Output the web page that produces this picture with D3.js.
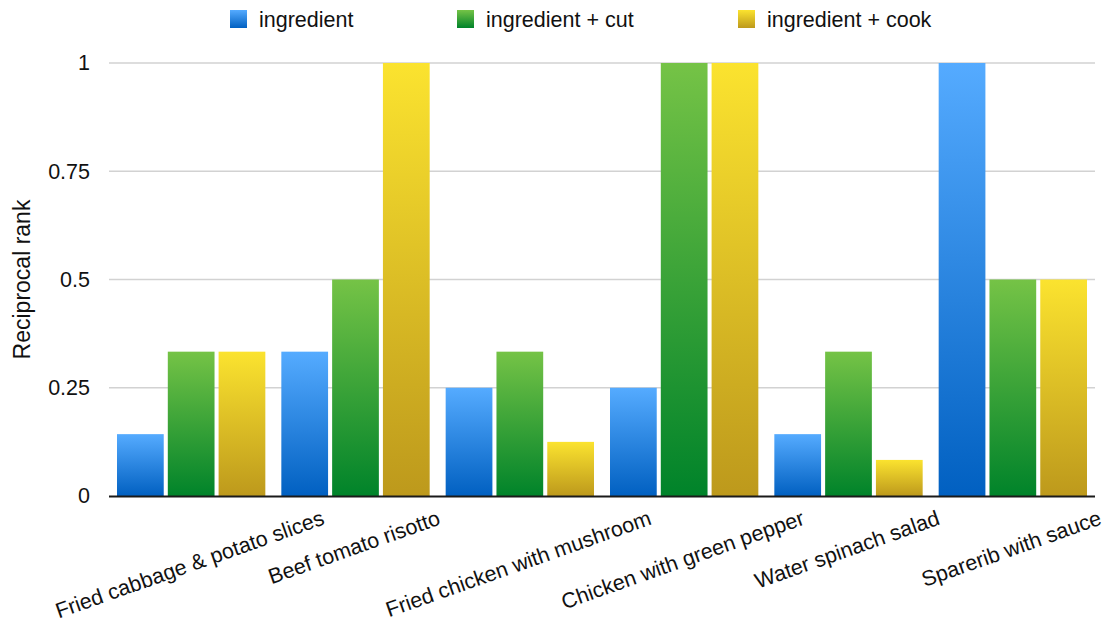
<!DOCTYPE html>
<html>
<head>
<meta charset="utf-8">
<script src="https://cdn.jsdelivr.net/npm/d3@7"></script>
<style>
  html, body { margin: 0; padding: 0; background: #fff; }
  svg { display: block; font-family: "Liberation Sans", Arial, Helvetica, sans-serif; }
</style>
</head>
<body>
<svg id="chart" width="1107" height="625"></svg>
<script>
// Reciprocal rank per dish for three query types
const categories = [
  "Fried cabbage & potato slices",
  "Beef tomato risotto",
  "Fried chicken with mushroom",
  "Chicken with green pepper",
  "Water spinach salad",
  "Sparerib with sauce"
];
const seriesNames = ["ingredient", "ingredient + cut", "ingredient + cook"];
const ingredient = [1/7, 1/3, 1/4, 1/4, 1/7, 1];
const ingredientCut = [1/3, 1/2, 1/3, 1, 1/3, 1/2];
const ingredientCook = [1/3, 1, 1/8, 1, 1/12, 1/2];
const yTicks = [0, 0.25, 0.5, 0.75, 1];
const yTickLabels = ["0", "0.25", "0.5", "0.75", "1"];

const seriesValues = [ingredient, ingredientCut, ingredientCook];
const gradients = [
  { id: "gBlue", top: "#55abff", bottom: "#0160c1" },
  { id: "gGreen", top: "#75c346", bottom: "#00832a" },
  { id: "gYellow", top: "#fbe32f", bottom: "#bd991c" }
];

const svg = d3.select("#chart");
const plotLeft = 109, plotRight = 1095, plotTop = 63, plotBottom = 496;

const defs = svg.append("defs");
gradients.forEach(g => {
  const lgr = defs.append("linearGradient")
    .attr("id", g.id).attr("x1", 0).attr("y1", 0).attr("x2", 0).attr("y2", 1);
  lgr.append("stop").attr("offset", "0%").attr("stop-color", g.top);
  lgr.append("stop").attr("offset", "100%").attr("stop-color", g.bottom);
});

const x0 = d3.scaleBand().domain(categories).range([plotLeft, plotRight]).padding(0);
const x1 = d3.scaleBand().domain(seriesNames)
  .range([8, x0.bandwidth() - 8]).paddingInner(0.08).paddingOuter(0);
const y = d3.scaleLinear().domain([0, 1]).range([plotBottom, plotTop]);

// Gridlines
svg.append("g")
  .selectAll("line")
  .data(yTicks.filter(t => t > 0))
  .join("line")
  .attr("x1", plotLeft).attr("x2", plotRight)
  .attr("y1", d => y(d)).attr("y2", d => y(d))
  .attr("stroke", "#d2d2d2").attr("stroke-width", 1.5);

// Y tick labels
const yAxis = d3.axisLeft(y).tickValues(yTicks)
  .tickFormat((d, i) => yTickLabels[i]).tickSize(0).tickPadding(19);
const ya = svg.append("g").attr("transform", `translate(${plotLeft},0)`).call(yAxis);
ya.select(".domain").remove();
ya.selectAll("text")
  .attr("font-size", 21.5).attr("fill", "#111")
  .attr("font-family", "\"Liberation Sans\", Arial, sans-serif");

// Bars
const rows = categories.map((c, i) => ({ c, vals: seriesValues.map(s => s[i]) }));
const groups = svg.append("g").selectAll("g")
  .data(rows).join("g")
  .attr("transform", d => `translate(${x0(d.c)},0)`);
groups.selectAll("rect")
  .data(d => d.vals.map((v, k) => ({ k, v })))
  .join("rect")
  .attr("x", d => x1(seriesNames[d.k]))
  .attr("width", x1.bandwidth())
  .attr("y", d => y(d.v))
  .attr("height", d => y(0) - y(d.v))
  .attr("fill", d => `url(#${gradients[d.k].id})`);

// Baseline
svg.append("line")
  .attr("x1", plotLeft).attr("x2", plotRight)
  .attr("y1", y(0) + 0.5).attr("y2", y(0) + 0.5)
  .attr("stroke", "#1a1a1a").attr("stroke-width", 2);

// Category labels, rotated and centred under each group
const ang = 19.5, rad = ang * Math.PI / 180;
svg.append("g").selectAll("text")
  .data(categories).join("text")
  .text(d => d)
  .attr("font-size", 21.5).attr("fill", "#111")
  .attr("text-anchor", "end")
  .each(function (d) {
    const L = this.getComputedTextLength();
    const cx = x0(d) + x0.bandwidth() / 2 + 1;
    const xe = cx + (L / 2) * Math.cos(rad);
    const ye = 524;
    d3.select(this).attr("transform", `translate(${xe},${ye}) rotate(${-ang})`);
  });

// Y axis title
svg.append("text")
  .attr("transform", `translate(30,${(plotTop + plotBottom) / 2}) rotate(-90)`)
  .attr("text-anchor", "middle")
  .attr("font-size", 23).attr("fill", "#111")
  .text("Reciprocal rank");

// Legend
const legendX = [230, 457, 738];
const legend = svg.append("g").selectAll("g")
  .data(seriesNames).join("g")
  .attr("transform", (d, i) => `translate(${legendX[i]},10)`);
legend.append("rect")
  .attr("width", 17).attr("height", 18)
  .attr("fill", (d, i) => `url(#${gradients[i].id})`);
legend.append("text")
  .attr("x", 29).attr("y", 17)
  .attr("font-size", 21.5).attr("fill", "#111")
  .text(d => d);
</script>
</body>
</html>
